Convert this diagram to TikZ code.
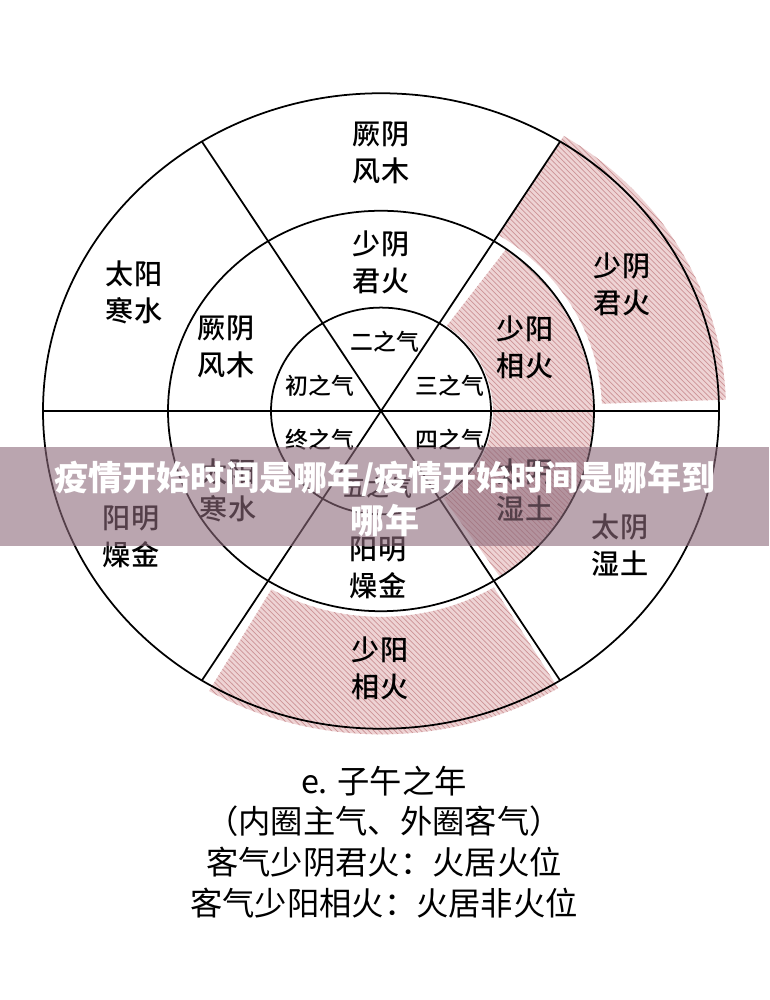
\documentclass[tikz,border=0pt]{standalone}
\usepackage{fontspec}
\setmainfont{Noto Sans CJK SC}
\newfontfamily\titlefont{Noto Sans CJK SC Black}
\newfontfamily\labelfont{Noto Sans CJK SC Medium}
\usetikzlibrary{patterns}
\definecolor{firepink}{RGB}{238,211,212}
\definecolor{fireline}{RGB}{204,148,151}
\definecolor{bannermauve}{RGB}{140,105,122}
\tikzset{
    ring/.style = {line width = 1pt},
    firearea/.style = {fill = firepink, postaction = {pattern = north west lines, pattern color = fireline}},
    qiname/.style = {align = center, font = \labelfont\fontsize{16pt}{21pt}\selectfont},
    qistep/.style = {font = \labelfont\fontsize{13pt}{16pt}\selectfont},
}
\begin{document}
\begin{tikzpicture}[x = 0.02cm, y = 0.02cm]
    \useasboundingbox (0, 0) rectangle (769, 1000);
    \fill[white] (0, 0) rectangle (769, 1000);
    % wheel, squeezed a little in height
    \begin{scope}[shift = {(381, 589)}, yscale = 0.94]
        \fill[firearea] (2:221) arc[start angle = 2, end angle = 58, radius = 221] -- (58:345) arc[start angle = 58, end angle = 2, radius = 345] -- cycle;
        \fill[firearea] (-56:112) arc[start angle = -56, end angle = 54, radius = 112] -- (54:212) arc[start angle = 54, end angle = -56, radius = 212] -- cycle;
        \fill[firearea] (-120:219) arc[start angle = -120, end angle = -59, radius = 219] -- (-59:344) arc[start angle = -59, end angle = -120, radius = 344] -- cycle;
        \draw[ring] (0, 0) circle(338);
        \draw[ring] (0, 0) circle(213);
        \draw[ring] (0, 0) circle(110);
        \draw[ring] (180:338) -- (0:338);
        \draw[ring] (58:338) -- (238:338);
        \draw[ring] (122:338) -- (302:338);
    \end{scope}
    % outer ring
    \node[qiname](outtop) at (381, 847){厥阴\\风木};
    \node[qiname](outul) at (134, 708){太阳\\寒水};
    \node[qiname](outur) at (622, 716){少阴\\君火};
    \node[qiname](outll) at (131, 463){阳明\\燥金};
    \node[qiname](outlr) at (620, 455){太阴\\湿土};
    \node[qiname](outbot) at (380, 332){少阳\\相火};
    % middle ring
    \node[qiname](midtop) at (381, 738){少阴\\君火};
    \node[qiname](midul) at (226, 653){厥阴\\风木};
    \node[qiname](midur) at (525, 653){少阳\\相火};
    \node[qiname](midll) at (228, 510){太阳\\寒水};
    \node[qiname](midlr) at (525, 510){太阴\\湿土};
    \node[qiname](midbot) at (378, 432){阳明\\燥金};
    % inner circle
    \node[qistep](step2) at (385, 658){二之气};
    \node[qistep](step1) at (320, 614){初之气};
    \node[qistep](step3) at (450, 614){三之气};
    \node[qistep](step6) at (320, 560){终之气};
    \node[qistep](step4) at (450, 560){四之气};
    \node[qistep](step5) at (378, 512){五之气};
    % caption
    \node[align = center, font = \fontsize{18.4pt}{23.2pt}\selectfont](caption) at (384, 158){e. 子午之年\\（内圈主气、外圈客气）\\客气少阴君火：火居火位\\客气少阳相火：火居非火位};
    % banner over the wheel
    \fill[bannermauve, fill opacity = 0.6] (0, 454) rectangle (769, 553);
    \node[align = center, text = white, font = \titlefont\fontsize{19.4pt}{24pt}\selectfont](title) at (385, 501){疫情开始时间是哪年/疫情开始时间是哪年到\\哪年};
\end{tikzpicture}
\end{document}
